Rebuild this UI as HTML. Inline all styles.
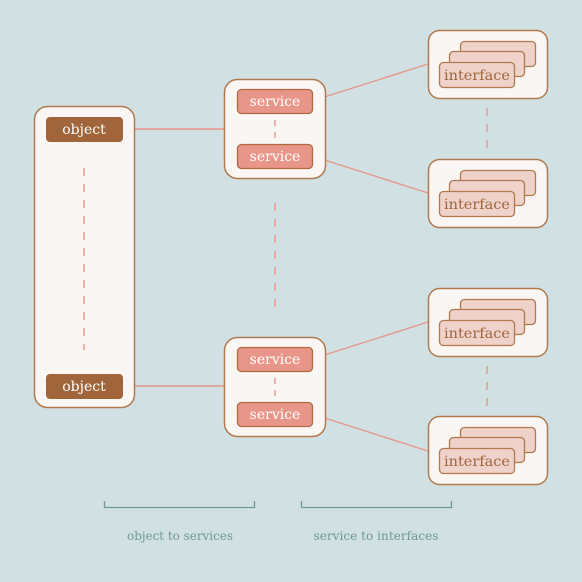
<!DOCTYPE html>
<html><head><style>html,body{margin:0;padding:0;background:#d1e0e3}</style></head><body>
<svg width="582" height="577" viewBox="0 0 582 577" xmlns="http://www.w3.org/2000/svg" font-family="'DejaVu Serif','Liberation Serif',serif">
<rect width="582" height="577" fill="#d1e0e3"/>
<g stroke="#e8968a" stroke-width="1.4" fill="none">
<line x1="122" y1="129" x2="224" y2="129"/>
<line x1="122" y1="386" x2="224" y2="386"/>
<line x1="312" y1="101" x2="428" y2="64"/>
<line x1="312" y1="156" x2="428" y2="193"/>
<line x1="312" y1="359" x2="428" y2="322"/>
<line x1="312" y1="414" x2="428" y2="451"/>
</g>
<g fill="#faf6f3" stroke="#b07a4e" stroke-width="1.5">
<rect x="34.5" y="106.5" width="100" height="301" rx="13"/>
<rect x="224.5" y="79.5" width="101" height="99" rx="13"/>
<rect x="224.5" y="337.5" width="101" height="99" rx="13"/>
<rect x="428.5" y="30.5" width="119" height="68" rx="11"/>
<rect x="428.5" y="159.5" width="119" height="68" rx="11"/>
<rect x="428.5" y="288.5" width="119" height="68" rx="11"/>
<rect x="428.5" y="416.5" width="119" height="68" rx="11"/>
</g>
<g stroke="#e8968a" stroke-width="1.4" fill="none">
<g stroke-dasharray="8,8">
<line x1="84" y1="168" x2="84" y2="350"/>
<line x1="275" y1="203" x2="275" y2="310"/>
<line x1="487" y1="108" x2="487" y2="150"/>
<line x1="487" y1="366" x2="487" y2="408"/>
</g>
<g stroke-dasharray="6,6">
<line x1="275" y1="120" x2="275" y2="138"/>
<line x1="275" y1="378" x2="275" y2="396"/>
</g>
</g>
<g fill="#a0653a">
<rect x="46" y="117" width="77" height="25" rx="4"/>
<rect x="46" y="374" width="77" height="25" rx="4"/>
</g>
<g fill="#fff" font-size="14" text-anchor="middle">
<text x="84" y="134">object</text>
<text x="84" y="391">object</text>
</g>
<g fill="#e8968a" stroke="#b06a40" stroke-width="1.3">
<rect x="237.5" y="89.5" width="75" height="24" rx="4"/>
<rect x="237.5" y="144.5" width="75" height="24" rx="4"/>
<rect x="237.5" y="347.5" width="75" height="24" rx="4"/>
<rect x="237.5" y="402.5" width="75" height="24" rx="4"/>
</g>
<g fill="#fff" font-size="14" text-anchor="middle">
<text x="275" y="106">service</text>
<text x="275" y="161">service</text>
<text x="275" y="364">service</text>
<text x="275" y="419">service</text>
</g>
<defs>
<g id="st">
<rect x="460.5" y="41.5" width="75" height="25" rx="4"/>
<rect x="449.5" y="51.5" width="75" height="25" rx="4"/>
<rect x="439.5" y="62.5" width="75" height="25" rx="4"/>
</g>
</defs>
<g fill="#efd2c9" stroke="#b07a4e" stroke-width="1.3">
<use href="#st"/>
<use href="#st" y="129"/>
<use href="#st" y="258"/>
<use href="#st" y="386"/>
</g>
<g fill="#a0653a" font-size="14" text-anchor="middle">
<text x="477" y="80" textLength="66" lengthAdjust="spacingAndGlyphs">interface</text>
<text x="477" y="209" textLength="66" lengthAdjust="spacingAndGlyphs">interface</text>
<text x="477" y="338" textLength="66" lengthAdjust="spacingAndGlyphs">interface</text>
<text x="477" y="466" textLength="66" lengthAdjust="spacingAndGlyphs">interface</text>
</g>
<g stroke="#6f9a8f" stroke-width="1.3" fill="none">
<path d="M104.5 501v6.5h150v-6.5"/>
<path d="M301.5 501v6.5h150v-6.5"/>
</g>
<g fill="#6f9a8f" font-size="12" text-anchor="middle">
<text x="180" y="540" textLength="106" lengthAdjust="spacingAndGlyphs">object to services</text>
<text x="376" y="540" textLength="125" lengthAdjust="spacingAndGlyphs">service to interfaces</text>
</g>
</svg>
</body></html>
